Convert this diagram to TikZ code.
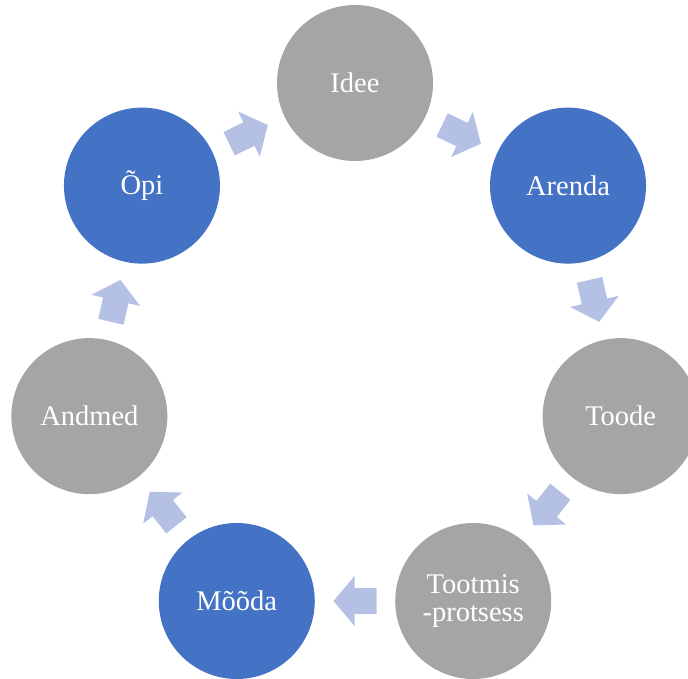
\documentclass[tikz,border=0pt]{standalone}
\usepackage{fontspec}
\setmainfont{Liberation Serif}
\definecolor{cgray}{HTML}{A5A5A5}
\definecolor{cblue}{HTML}{4472C4}
\definecolor{carrow}{HTML}{B4C1E4}
\begin{document}
\begin{tikzpicture}[x=1pt,y=1pt,
  stage/.style={circle,minimum size=156pt,inner sep=0pt,text=white,
    font=\fontsize{28.5}{27.5}\selectfont,align=center},
  graystage/.style={stage,fill=cgray},
  bluestage/.style={stage,fill=cblue},
  blockarrow/.pic={\fill[carrow] (21.5,0) -- (0.5,25) -- (0.5,13) -- (-21.5,13) -- (-21.5,-13) -- (0.5,-13) -- (0.5,-25) -- cycle;}
]
\useasboundingbox (0,0) rectangle (688,678);
\coordinate (c) at (355,322.5);
\node[graystage] (idee)   at ([shift={(90:272.5)}]c) {Idee};
\node[bluestage] (arenda) at ([shift={(38.571:272.5)}]c) {Arenda};
\node[graystage] (toode)  at ([shift={(-12.857:272.5)}]c) {Toode};
\node[graystage] (tootmis) at ([shift={(-64.286:272.5)}]c) {Tootmis\\-protsess};
\node[bluestage] (mooda)  at ([shift={(-115.714:272.5)}]c) {Mõõda};
\node[graystage] (andmed) at ([shift={(-167.143:272.5)}]c) {Andmed};
\node[bluestage] (opi)    at ([shift={(141.429:272.5)}]c) {Õpi};
\foreach \a in {64.286,12.857,-38.571,-90,-141.429,-192.857,115.714}{
  \pic[shift={(c)},shift={(\a:245.5)},rotate=\a-90] {blockarrow};
}
\end{tikzpicture}
\end{document}
